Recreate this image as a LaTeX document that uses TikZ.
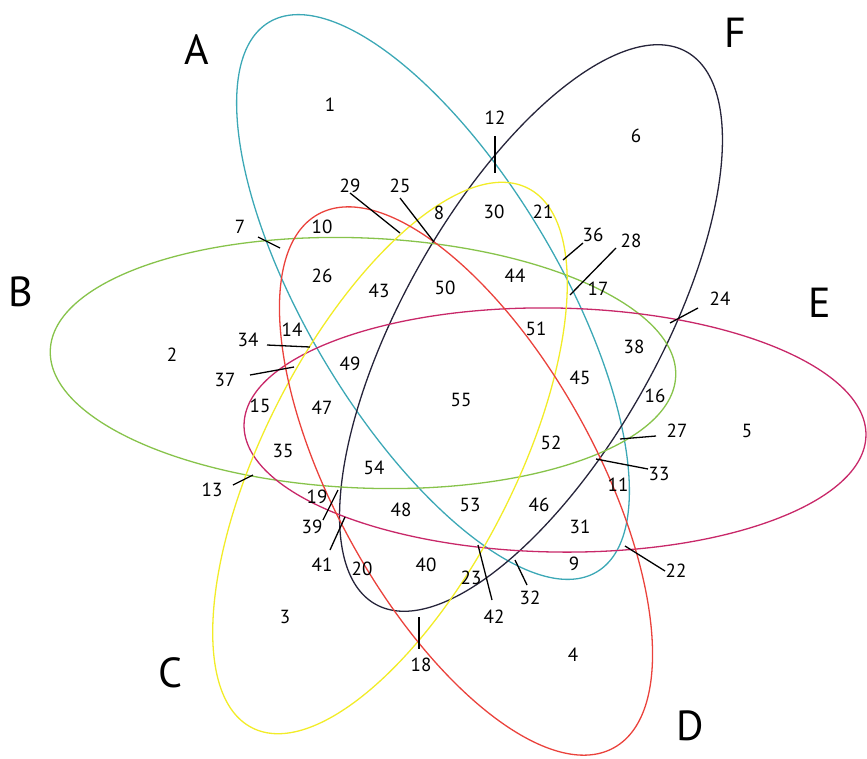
\documentclass[tikz,border=0pt]{standalone}
\usepackage{fontspec}
\setmainfont{PT Sans}
\definecolor{cA}{RGB}{60,168,182}
\definecolor{cF}{RGB}{38,36,58}
\definecolor{cB}{RGB}{135,195,75}
\definecolor{cE}{RGB}{200,40,105}
\definecolor{cC}{RGB}{242,236,40}
\definecolor{cD}{RGB}{234,66,60}
\tikzset{
  setline/.style={line width=1.3pt},
  num/.style={font=\fontsize{19}{19}\selectfont, inner sep=0pt},
  big/.style={font=\fontsize{42}{42}\selectfont, inner sep=0pt},
  ptr/.style={line width=1.3pt, black}
}
\begin{document}
\begin{tikzpicture}[x=1pt,y=-1pt]
\useasboundingbox (0,0) rectangle (867,758);
\draw[setline,cA,rotate around={-59.2:(433,297)}] (433,297) ellipse [x radius=320pt, y radius=126pt];
\draw[setline,cF,rotate around={60.6:(531,328)}] (531,328) ellipse [x radius=317pt, y radius=128pt];
\draw[setline,cB,rotate around={-2.4:(363,363)}] (363,363) ellipse [x radius=313pt, y radius=125pt];
\draw[setline,cE,rotate around={-1:(555,430)}] (555,430) ellipse [x radius=311pt, y radius=122pt];
\draw[setline,cC,rotate around={62.9:(390,458)}] (390,458) ellipse [x radius=303pt, y radius=125pt];
\draw[setline,cD,rotate around={-61:(466,481)}] (466,481) ellipse [x radius=305pt, y radius=130pt];
% set labels
\node[big] (lA) at (197,50) {A};
\node[big] (lF) at (735,33) {F};
\node[big] (lB) at (21,292) {B};
\node[big] (lE) at (820,303) {E};
\node[big] (lC) at (170,673) {C};
\node[big] (lD) at (690,726) {D};
% numbers
\node[num] (n1) at (330,105) {1};
\node[num] (n2) at (172,355) {2};
\node[num] (n3) at (285,617) {3};
\node[num] (n4) at (573,655) {4};
\node[num] (n5) at (747,431) {5};
\node[num] (n6) at (636,136) {6};
\node[num] (n7) at (240,227) {7};
\node[num] (n8) at (439,213) {8};
\node[num] (n9) at (574,564) {9};
\node[num] (n10) at (322,227) {10};
\node[num] (n11) at (618,485) {11};
\node[num] (n12) at (495,118) {12};
\node[num] (n13) at (212,490) {13};
\node[num] (n14) at (292,330) {14};
\node[num] (n15) at (260,406) {15};
\node[num] (n16) at (655,396) {16};
\node[num] (n17) at (598,289) {17};
\node[num] (n18) at (421,665) {18};
\node[num] (n19) at (317,497) {19};
\node[num] (n20) at (362,569) {20};
\node[num] (n21) at (543,212) {21};
\node[num] (n22) at (676,571) {22};
\node[num] (n23) at (471,578) {23};
\node[num] (n24) at (720,299) {24};
\node[num] (n25) at (400,186) {25};
\node[num] (n26) at (322,276) {26};
\node[num] (n27) at (677,431) {27};
\node[num] (n28) at (631,241) {28};
\node[num] (n29) at (350,186) {29};
\node[num] (n30) at (494,212) {30};
\node[num] (n31) at (580,527) {31};
\node[num] (n32) at (530,598) {32};
\node[num] (n33) at (659,474) {33};
\node[num] (n34) at (248,340) {34};
\node[num] (n35) at (283,451) {35};
\node[num] (n36) at (593,235) {36};
\node[num] (n37) at (225,380) {37};
\node[num] (n38) at (634,347) {38};
\node[num] (n39) at (312,527) {39};
\node[num] (n40) at (426,565) {40};
\node[num] (n41) at (322,565) {41};
\node[num] (n42) at (494,617) {42};
\node[num] (n43) at (379,291) {43};
\node[num] (n44) at (515,276) {44};
\node[num] (n45) at (580,378) {45};
\node[num] (n46) at (539,505) {46};
\node[num] (n47) at (322,408) {47};
\node[num] (n48) at (401,510) {48};
\node[num] (n49) at (350,364) {49};
\node[num] (n50) at (445,288) {50};
\node[num] (n51) at (536,329) {51};
\node[num] (n52) at (551,443) {52};
\node[num] (n53) at (470,505) {53};
\node[num] (n54) at (374,468) {54};
\node[num] (n55) at (461,400) {55};
% pointer ends
\coordinate (p12a) at (495,136); \coordinate (p12b) at (495,173);
\coordinate (p7a) at (258,237); \coordinate (p7b) at (280,248);
\coordinate (p29a) at (350,193); \coordinate (p29b) at (400,233);
\coordinate (p25a) at (400,198); \coordinate (p25b) at (434,242);
\coordinate (p34a) at (267,345); \coordinate (p34b) at (310,347);
\coordinate (p37a) at (250,375); \coordinate (p37b) at (294,367);
\coordinate (p13a) at (233,485); \coordinate (p13b) at (253,475);
\coordinate (p39a) at (323,520); \coordinate (p39b) at (338,490);
\coordinate (p41a) at (330,550); \coordinate (p41b) at (345,517);
\coordinate (p18a) at (419,617); \coordinate (p18b) at (419,649);
\coordinate (p36a) at (563,260); \coordinate (p36b) at (583,243);
\coordinate (p28a) at (570,295); \coordinate (p28b) at (616,248);
\coordinate (p24a) at (670,323); \coordinate (p24b) at (698,308);
\coordinate (p27a) at (620,439); \coordinate (p27b) at (656,436);
\coordinate (p33a) at (596,459); \coordinate (p33b) at (648,469);
\coordinate (p22a) at (625,546); \coordinate (p22b) at (665,571);
\coordinate (p42a) at (478,545); \coordinate (p42b) at (492,600);
\coordinate (p32a) at (515,560); \coordinate (p32b) at (527,585);
\foreach \k in {12,7,29,25,34,37,13,39,41,18,36,28,24,27,33,22,42,32}
  \draw[ptr] (p\k a) -- (p\k b);
\end{tikzpicture}
\end{document}
